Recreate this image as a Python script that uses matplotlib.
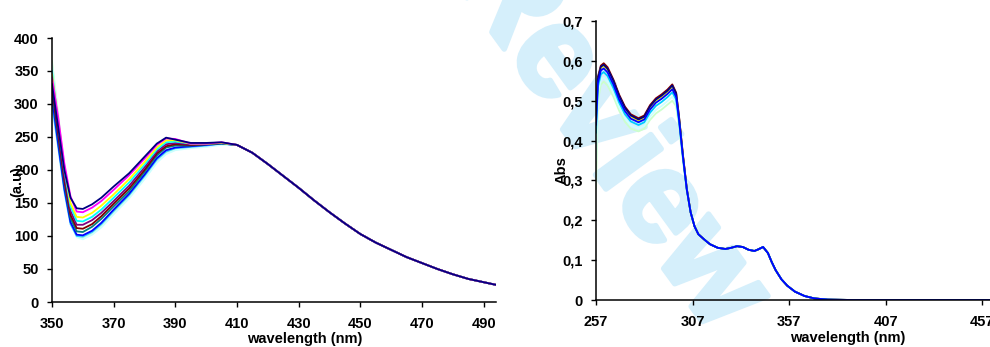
import numpy as np
import matplotlib
matplotlib.use('Agg')
import matplotlib.pyplot as plt
import matplotlib.patheffects as pe

plt.rcParams['font.family'] = ['Liberation Sans', 'DejaVu Sans']
plt.rcParams['font.weight'] = 'bold'

# Left panel: emission spectra (a.u) vs wavelength
wl_left = [350, 352, 354, 356, 358, 360, 363, 366, 370, 375, 380, 384, 387, 390, 395, 400, 405]
left_curves = {
    '#CCFFCC': [365, 285, 200, 130, 100, 96, 103, 115, 135, 159, 188, 213, 226, 231, 234, 236, 239],
    '#CCFFFF': [360, 280, 196, 127, 98, 95, 102, 113, 133, 157, 186, 211, 224, 230, 233, 235, 238],
    '#33CCFF': [300, 235, 168, 118, 100, 99, 106, 118, 138, 162, 191, 216, 228, 233, 235, 237, 240],
    '#0000FF': [310, 240, 172, 121, 102, 101, 108, 120, 140, 164, 193, 218, 230, 234, 236, 238, 240],
    '#008080': [320, 250, 180, 127, 107, 106, 114, 126, 145, 168, 197, 222, 234, 237, 237, 239, 240],
    '#800000': [325, 255, 185, 132, 112, 111, 118, 130, 149, 172, 200, 225, 236, 239, 238, 239, 241],
    '#800080': [335, 262, 192, 138, 117, 117, 124, 135, 153, 176, 204, 228, 239, 241, 239, 240, 241],
    '#00FFFF': [350, 270, 200, 145, 123, 122, 129, 140, 158, 181, 208, 231, 242, 243, 240, 240, 241],
    '#FFFF00': [345, 275, 205, 150, 129, 128, 135, 146, 163, 186, 212, 234, 245, 245, 240, 240, 241],
    '#FF00FF': [340, 280, 210, 160, 137, 136, 143, 153, 170, 192, 217, 238, 248, 247, 240, 240, 242],
    '#000080': [330, 265, 200, 158, 142, 141, 148, 158, 175, 195, 220, 240, 249, 246, 241, 241, 242],
}
wl_left_tail = [410, 415, 420, 425, 430, 435, 440, 445, 450, 455, 460, 465, 470, 475, 480, 485, 490, 494]
left_tail = [238, 226, 209, 191, 173, 154, 136, 119, 103, 90, 79, 68, 59, 50, 42, 35, 30, 26]
left_xticks = [350, 370, 390, 410, 430, 450, 470, 490]
left_yticks = [0, 50, 100, 150, 200, 250, 300, 350, 400]

# Right panel: absorbance vs wavelength
wl_right = [257, 258, 259.5, 261, 263, 266, 269, 272, 275, 279, 282, 285, 288, 291, 294, 296.5, 298.5, 300, 302, 304]
right_curves = {
    '#CCFFCC': [0.28, 0.50, 0.540, 0.548, 0.538, 0.510, 0.475, 0.447, 0.430, 0.423, 0.430, 0.452, 0.468, 0.478, 0.490, 0.500, 0.486, 0.434, 0.350, 0.272],
    '#CCFFFF': [0.35, 0.52, 0.552, 0.558, 0.548, 0.520, 0.484, 0.456, 0.438, 0.430, 0.437, 0.460, 0.477, 0.487, 0.499, 0.510, 0.494, 0.440, 0.353, 0.274],
    '#800000': [0.47, 0.56, 0.588, 0.594, 0.584, 0.553, 0.515, 0.485, 0.466, 0.456, 0.463, 0.489, 0.506, 0.516, 0.528, 0.541, 0.520, 0.460, 0.365, 0.280],
    '#FFFF00': [0.45, 0.55, 0.582, 0.587, 0.577, 0.547, 0.509, 0.479, 0.460, 0.450, 0.457, 0.483, 0.500, 0.510, 0.522, 0.535, 0.515, 0.456, 0.362, 0.278],
    '#000080': [0.46, 0.555, 0.585, 0.590, 0.580, 0.550, 0.512, 0.482, 0.463, 0.453, 0.460, 0.486, 0.503, 0.513, 0.525, 0.538, 0.518, 0.458, 0.363, 0.279],
    '#00CCFF': [0.42, 0.535, 0.566, 0.572, 0.562, 0.532, 0.495, 0.466, 0.448, 0.439, 0.446, 0.470, 0.487, 0.497, 0.509, 0.521, 0.503, 0.447, 0.357, 0.276],
    '#0000FF': [0.44, 0.545, 0.576, 0.581, 0.571, 0.541, 0.503, 0.474, 0.455, 0.446, 0.453, 0.478, 0.495, 0.505, 0.517, 0.529, 0.510, 0.452, 0.360, 0.277],
}
wl_right_tail = [306, 308, 310, 313, 316, 320, 324, 327, 330, 333, 336, 339, 341, 343.5, 346, 348, 350, 353, 356, 360, 365, 370, 377, 390, 461]
right_tail = [0.22, 0.185, 0.165, 0.152, 0.14, 0.131, 0.128, 0.131, 0.135, 0.133, 0.126, 0.123, 0.127, 0.133, 0.118, 0.095,
              0.075, 0.052, 0.036, 0.021, 0.01, 0.004, 0.001, 0.0, 0.0]
right_xticks = [257, 307, 357, 407, 457]
right_yticks = [0, 0.1, 0.2, 0.3, 0.4, 0.5, 0.6, 0.7]
right_ylabels = ['0', '0,1', '0,2', '0,3', '0,4', '0,5', '0,6', '0,7']

fig = plt.figure(figsize=(9.9, 3.47), dpi=100)

# watermark behind everything
fig.text(0.615, 0.608, 'Review', fontsize=93, fontweight='bold', color='#d5effb',
         rotation=-54, ha='center', va='center', zorder=-5,
         path_effects=[pe.withStroke(linewidth=4, foreground='#d5effb')])

ax1 = fig.add_axes([52 / 990, 1 - 302 / 347, 444 / 990, 264 / 347])
ax2 = fig.add_axes([596 / 990, 1 - 300 / 347, 394 / 990, 279 / 347])

for color, vals in left_curves.items():
    ax1.plot(wl_left + wl_left_tail, vals + left_tail, color=color, lw=1.3)

for color, vals in right_curves.items():
    ax2.plot(wl_right + wl_right_tail, vals + right_tail, color=color, lw=1.3)

for ax in (ax1, ax2):
    ax.patch.set_alpha(0)
    ax.spines['top'].set_visible(False)
    ax.spines['right'].set_visible(False)
    ax.spines['left'].set_linewidth(1.1)
    ax.spines['bottom'].set_linewidth(1.1)
    ax.tick_params(direction='out', length=3.5, width=1, labelsize=10.5)
    ax.tick_params(axis='x', pad=7)
    ax.tick_params(axis='y', pad=6)

ax1.set_xlim(350, 494)
ax1.set_ylim(0, 400)
ax1.set_xticks(left_xticks)
ax1.set_yticks(left_yticks)
ax1.set_xlabel('wavelength (nm)', fontsize=10.5, fontweight='bold')
ax1.xaxis.set_label_coords(0.57, -0.112)
ax1.set_ylabel('(a.u)', fontsize=10.5, fontweight='bold')
ax1.yaxis.set_label_coords(-0.063, 0.455)

ax2.set_xlim(257, 461)
ax2.set_ylim(0, 0.7)
ax2.set_xticks(right_xticks)
ax2.set_yticks(right_yticks)
ax2.set_yticklabels(right_ylabels)
ax2.set_xlabel('wavelength (nm)', fontsize=10.5, fontweight='bold')
ax2.xaxis.set_label_coords(0.64, -0.11)
ax2.set_ylabel('Abs', fontsize=10.5, fontweight='bold')
ax2.yaxis.set_label_coords(-0.069, 0.466)

fig.savefig('out.png', dpi=100)
